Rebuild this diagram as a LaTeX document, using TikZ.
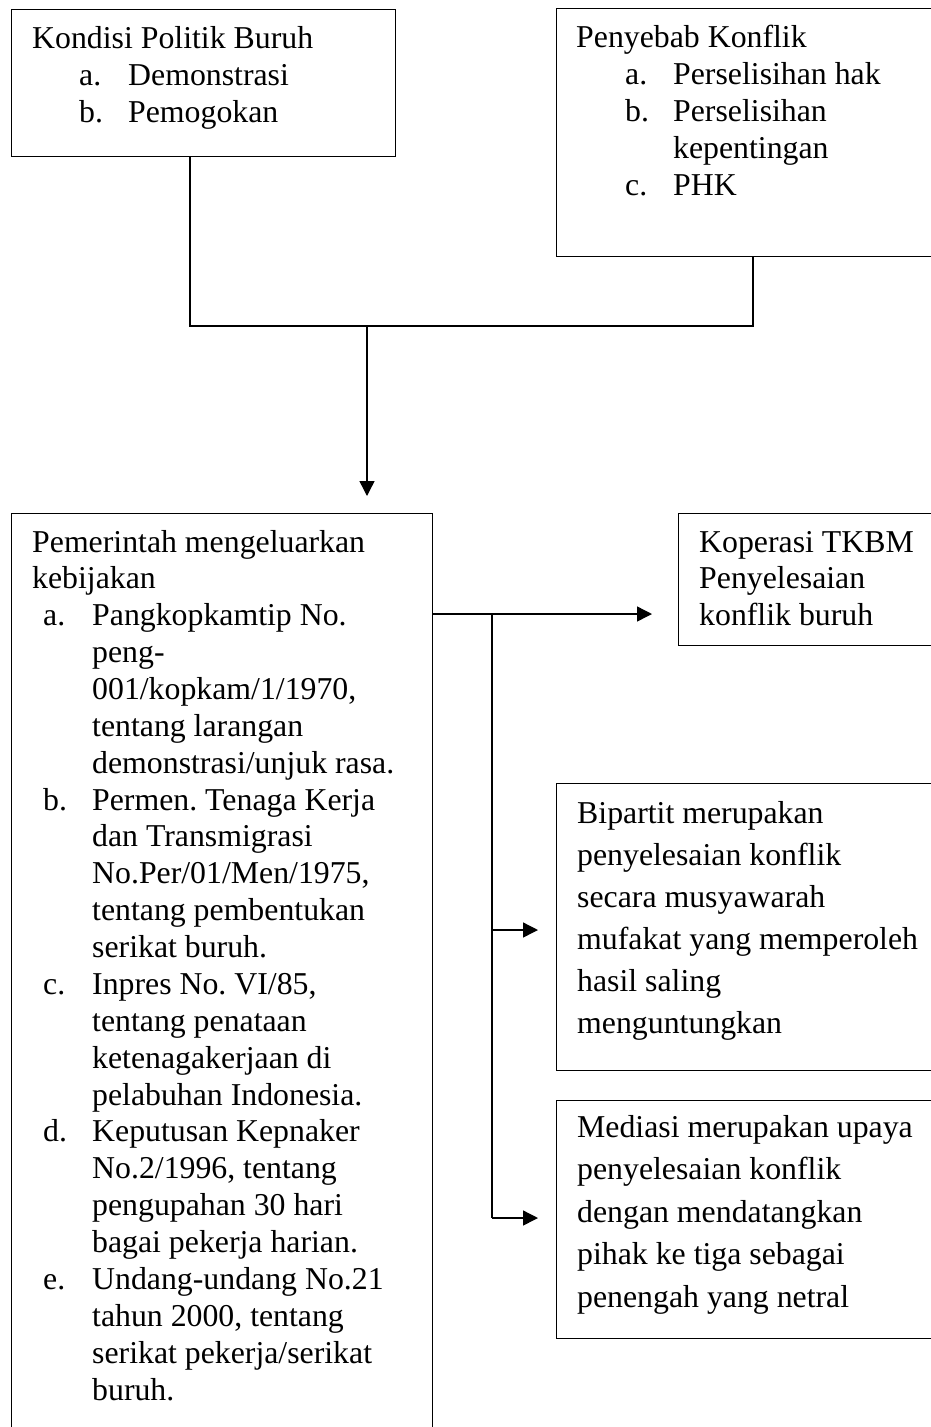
\documentclass[tikz,border=0pt]{standalone}
\usepackage{fontspec}
\setmainfont{Liberation Serif}
\usetikzlibrary{arrows.meta}
\frenchspacing
\newcommand{\lbl}[3]{\hspace*{#1}\makebox[#2][l]{#3}}
\begin{document}
\begin{tikzpicture}[x=1pt,y=-1pt,
  box/.style={draw=black, line width=1.4pt, rectangle, inner sep=0pt, anchor=north west},
  txt/.style={anchor=base west, inner sep=0pt},
  conn/.style={draw=black, line width=1.4pt},
  arr/.style={conn, -{Triangle[length=15pt,width=15pt]}}]
\useasboundingbox (0,0) rectangle (931,1427);
\clip (0,0) rectangle (931,1427);
\fill[white] (0,0) rectangle (931,1427);

% boxes
\node[box, minimum width=384pt, minimum height=147pt] (kondisi) at (11,9) {};
\node[box, minimum width=420pt, minimum height=248pt] (penyebab) at (556,8) {};
\node[box, minimum width=421pt, minimum height=940pt] (pemerintah) at (11,513) {};
\node[box, minimum width=300pt, minimum height=132pt] (koperasi) at (678,513) {};
\node[box, minimum width=420pt, minimum height=287pt] (bipartit) at (556,783) {};
\node[box, minimum width=420pt, minimum height=238pt] (mediasi) at (556,1100) {};

% texts
\node[txt] (tkondisi) at (32,48) {\parbox[t]{360pt}{\fontsize{31.8pt}{37pt}\selectfont\raggedright
Kondisi Politik Buruh\\
\lbl{47pt}{49pt}{a.}Demonstrasi\\
\lbl{47pt}{49pt}{b.}Pemogokan}};

\node[txt] (tpenyebab) at (576,47) {\parbox[t]{360pt}{\fontsize{31.8pt}{37pt}\selectfont\raggedright
Penyebab Konflik\\
\lbl{49pt}{48pt}{a.}Perselisihan hak\\
\lbl{49pt}{48pt}{b.}Perselisihan\\
\hspace*{97pt}kepentingan\\
\lbl{49pt}{48pt}{c.}PHK}};

\node[txt] (tpemerintah) at (32,552) {\parbox[t]{400pt}{\fontsize{31.8pt}{36.87pt}\selectfont\raggedright
Pemerintah mengeluarkan\\
kebijakan\\
\lbl{11pt}{49pt}{a.}Pangkopkamtip No.\\
\hspace*{60pt}peng-\\
\hspace*{60pt}001/kopkam/1/1970,\\
\hspace*{60pt}tentang larangan\\
\hspace*{60pt}demonstrasi/unjuk rasa.\\
\lbl{11pt}{49pt}{b.}Permen. Tenaga Kerja\\
\hspace*{60pt}dan Transmigrasi\\
\hspace*{60pt}No.Per/01/Men/1975,\\
\hspace*{60pt}tentang pembentukan\\
\hspace*{60pt}serikat buruh.\\
\lbl{11pt}{49pt}{c.}Inpres No. VI/85,\\
\hspace*{60pt}tentang penataan\\
\hspace*{60pt}ketenagakerjaan di\\
\hspace*{60pt}pelabuhan Indonesia.\\
\lbl{11pt}{49pt}{d.}Keputusan Kepnaker\\
\hspace*{60pt}No.2/1996, tentang\\
\hspace*{60pt}pengupahan 30 hari\\
\hspace*{60pt}bagai pekerja harian.\\
\lbl{11pt}{49pt}{e.}Undang-undang No.21\\
\hspace*{60pt}tahun 2000, tentang\\
\hspace*{60pt}serikat pekerja/serikat\\
\hspace*{60pt}buruh.}};

\node[txt] (tkoperasi) at (699,552) {\parbox[t]{300pt}{\fontsize{31.8pt}{36.5pt}\selectfont\raggedright
Koperasi TKBM\\
Penyelesaian\\
konflik buruh}};

\node[txt] (tbipartit) at (577,823) {\parbox[t]{380pt}{\fontsize{31.8pt}{42pt}\selectfont\raggedright
Bipartit merupakan\\
penyelesaian konflik\\
secara musyawarah\\
mufakat yang memperoleh\\
hasil saling\\
menguntungkan}};

\node[txt] (tmediasi) at (577,1137) {\parbox[t]{380pt}{\fontsize{31.8pt}{42.5pt}\selectfont\raggedright
Mediasi merupakan upaya\\
penyelesaian konflik\\
dengan mendatangkan\\
pihak ke tiga sebagai\\
penengah yang netral}};

% connectors
\coordinate (j1) at (190,326);
\coordinate (j2) at (753,326);
\coordinate (j3) at (367,326);
\draw[conn] (kondisi.south -| j1) -- (j1) -- (j2) -- (penyebab.south -| j2);
\draw[arr, shorten >=17pt] (j3) -- (pemerintah.north -| j3);

\coordinate (b1) at (492,614);
\coordinate (b2) at (492,930);
\coordinate (b3) at (492,1218);
\draw[arr, shorten >=26pt] (pemerintah.east |- b1) -- (koperasi.west |- b1);
\draw[conn] (b1) -- (b3);
\draw[arr, shorten >=18pt] (b2) -- (bipartit.west |- b2);
\draw[arr, shorten >=18pt] (b3) -- (mediasi.west |- b3);
\end{tikzpicture}
\end{document}
